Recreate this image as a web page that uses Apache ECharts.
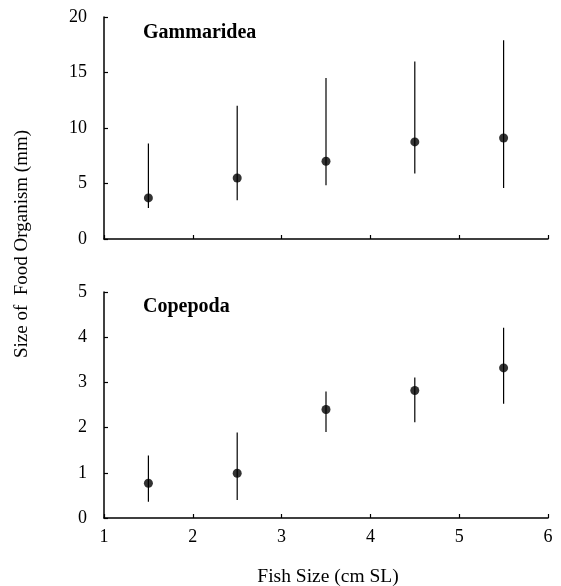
<!DOCTYPE html>
<html><head><meta charset="utf-8">
<script src="https://cdn.jsdelivr.net/npm/echarts@6/dist/echarts.min.js"></script>
<style>html,body{margin:0;padding:0;background:#fff}#c{width:561px;height:586px}</style>
</head><body><div id="c"></div>
<script>
const fishSize = [1.5, 2.5, 3.5, 4.5, 5.5];
const gammMean = [3.7, 5.5, 7.0, 8.75, 9.1];
const gammHigh = [8.6, 12.0, 14.5, 16.0, 17.9];
const gammLow  = [2.8, 3.5, 4.85, 5.9, 4.6];
const copeMean = [0.77, 0.99, 2.4, 2.82, 3.32];
const copeHigh = [1.38, 1.89, 2.8, 3.11, 4.21];
const copeLow  = [0.36, 0.4, 1.9, 2.12, 2.53];
const xTicks = [1, 2, 3, 4, 5, 6];
const panelTitles = ['Gammaridea', 'Copepoda'];

const font = '"Liberation Serif", "Times New Roman", serif';
const chart = echarts.init(document.getElementById('c'));

function errData(low, high) { return fishSize.map((x, i) => [x, low[i], high[i]]); }
function ptData(mean) { return fishSize.map((x, i) => [x, mean[i]]); }
function errRender(params, api) {
  const p1 = api.coord([api.value(0), api.value(1)]);
  const p2 = api.coord([api.value(0), api.value(2)]);
  return { type: 'line', shape: { x1: p1[0], y1: p1[1], x2: p2[0], y2: p2[1] },
           style: { stroke: '#000', lineWidth: 1.2 } };
}
const xAxisBase = (idx, showLabels) => ({
  type: 'value', gridIndex: idx, min: 1, max: 6, interval: 1,
  axisLine: { onZero: false, lineStyle: { color: '#000', width: 1.5 } },
  axisTick: { show: true, inside: true, length: 4, lineStyle: { color: '#000', width: 1.2 } },
  axisLabel: { show: showLabels, color: '#000', fontFamily: font, fontSize: 18, margin: 10,
               formatter: v => xTicks.includes(v) ? String(v) : '' },
  splitLine: { show: false }
});
const yAxisBase = (idx, max, interval) => ({
  type: 'value', gridIndex: idx, min: 0, max: max, interval: interval,
  axisLine: { show: true, lineStyle: { color: '#000', width: 1.5 } },
  axisTick: { show: true, inside: true, length: 4, lineStyle: { color: '#000', width: 1.2 } },
  axisLabel: { color: '#000', fontFamily: font, fontSize: 18, margin: 17 },
  splitLine: { show: false }
});

chart.setOption({
  animation: false,
  backgroundColor: '#fff',
  grid: [
    { left: 104, top: 17, width: 444, height: 222 },
    { left: 104, top: 292, width: 444, height: 226 }
  ],
  xAxis: [xAxisBase(0, false), xAxisBase(1, true)],
  yAxis: [yAxisBase(0, 20, 5), yAxisBase(1, 5, 1)],
  graphic: [
    { type: 'text', left: 143, top: 23, style: { text: panelTitles[0], font: 'bold 20px ' + font, fill: '#000' } },
    { type: 'text', left: 143, top: 297, style: { text: panelTitles[1], font: 'bold 20px ' + font, fill: '#000' } },
    { type: 'text', x: 22, y: 244, rotation: Math.PI / 2,
      style: { text: 'Size of  Food Organism (mm)', font: '19px ' + font, fill: '#000', align: 'center', verticalAlign: 'middle' } },
    { type: 'text', x: 328, y: 577,
      style: { text: 'Fish Size (cm SL)', font: '19.5px ' + font, fill: '#000', align: 'center', verticalAlign: 'middle' } }
  ],
  series: [
    { type: 'custom', xAxisIndex: 0, yAxisIndex: 0, data: errData(gammLow, gammHigh), renderItem: errRender, z: 2 },
    { type: 'scatter', xAxisIndex: 0, yAxisIndex: 0, data: ptData(gammMean), symbol: 'circle', symbolSize: 9,
      itemStyle: { color: '#000' }, z: 3 },
    { type: 'custom', xAxisIndex: 1, yAxisIndex: 1, data: errData(copeLow, copeHigh), renderItem: errRender, z: 2 },
    { type: 'scatter', xAxisIndex: 1, yAxisIndex: 1, data: ptData(copeMean), symbol: 'circle', symbolSize: 9,
      itemStyle: { color: '#000' }, z: 3 }
  ]
});
</script></body></html>
